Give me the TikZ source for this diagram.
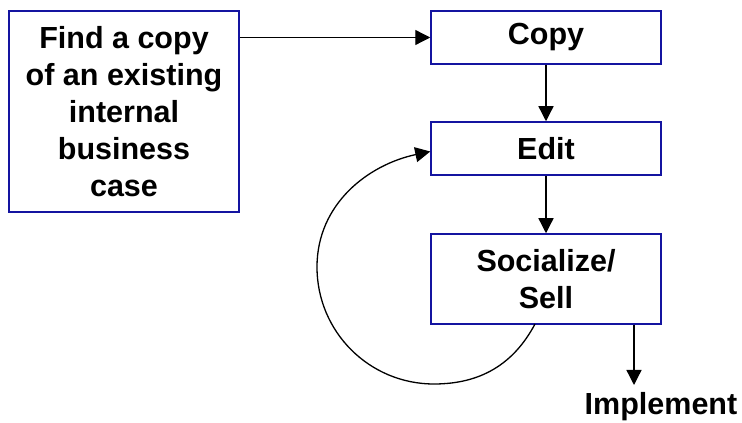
\documentclass[tikz,border=0pt]{standalone}
\usepackage{fontspec}
\setmainfont{Liberation Sans}
\usetikzlibrary{arrows.meta}
\definecolor{boxblue}{RGB}{20,20,160}

\begin{document}
\begin{tikzpicture}[x=1pt,y=1pt,line width=1.3pt,
  stage/.style={draw=boxblue,line width=1.5pt,minimum width=230pt,inner sep=0,
    align=center,font=\fontsize{30.5}{37}\selectfont\bfseries},
  arr/.style={-{Triangle[width=15pt,length=15pt]}}]
\useasboundingbox (0,0) rectangle (742,423);
% boxes
\node[stage,minimum height=201pt] (find) at (124,311.5)
  {Find a copy\\of an existing\\internal\\business\\case};
\node[stage,minimum height=53pt] (copy) at (546,385.5) {Copy};
\node[stage,minimum height=53pt] (edit) at (546,274.5) {Edit};
\node[stage,minimum height=90pt] (sell) at (546,144) {Socialize/\\Sell};
\node[anchor=base,inner sep=0,font=\fontsize{30.5}{37}\selectfont\bfseries] (impl) at (661,8) {Implement};
\coordinate (implIn) at (634,38);
\coordinate (loopStart) at (535,99);
% connectors
\draw[arr] (find.east |- copy.west) -- (copy.west);
\draw[arr] (copy) -- (edit);
\draw[arr] (edit) -- (sell);
\draw[arr] (sell.south -| implIn) -- (implIn);
\draw[arr] (loopStart) to[out=-118,in=0] (434,39) to[out=180,in=-90] (317,156)
  to[out=90,in=192] ([yshift=-3pt]edit.west);
\end{tikzpicture}
\end{document}
